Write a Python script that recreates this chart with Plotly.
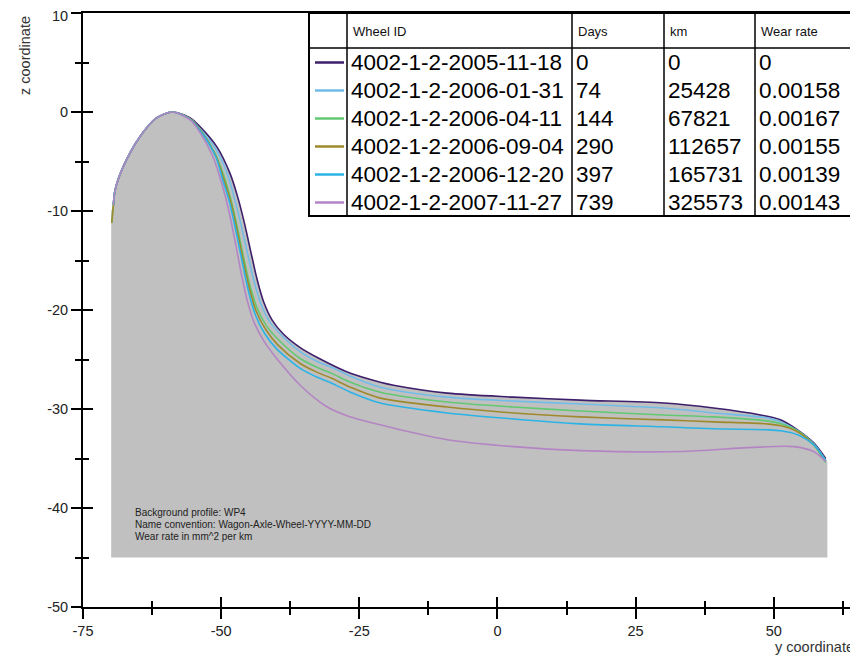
import plotly.graph_objects as go

# ---------------- data ----------------
wheel_ids = ["4002-1-2-2005-11-18", "4002-1-2-2006-01-31", "4002-1-2-2006-04-11",
             "4002-1-2-2006-09-04", "4002-1-2-2006-12-20", "4002-1-2-2007-11-27"]
days = ["0", "74", "144", "290", "397", "739"]
km = ["0", "25428", "67821", "112657", "165731", "325573"]
wear_rate = ["0", "0.00158", "0.00167", "0.00155", "0.00139", "0.00143"]
colors = ["#3D1F6B", "#72BDE8", "#62C872", "#9E8A2C", "#2BB3E6", "#B385C4"]

x_tickvals = [-75, -50, -25, 0, 25, 50]
x_ticktext = ["-75", "-50", "-25", "0", "25", "50"]
y_tickvals = [-50, -40, -30, -20, -10, 0, 10]
y_ticktext = ["-50", "-40", "-30", "-20", "-10", "0", "10"]

# background profile WP4 (gray area), y / z coordinates
wp4_y = [-69.9, -69.5, -69.2, -67.7, -64.7, -61.7, -58.8, -55.6, -53.8, -50.8, -48.4, -47.0, -45.8,
         -44.6, -43.5, -42.3, -40.8, -38.8, -35.7, -32.6, -26.6, -21.2, -18.8, -9.1, 2.9, 15.0, 30.1,
         39.1, 47.6, 51.3, 54.3, 57.2, 59.4, 59.7]
wp4_z = [-10.0, -9.4, -7.9, -5.5, -2.5, -0.6, 0.0, -0.6, -1.5, -3.5, -6.2, -8.6, -11.2,
         -14.2, -16.9, -19.2, -21.0, -22.4, -23.8, -24.8, -26.4, -27.3, -27.6, -28.4, -28.8, -29.1, -29.4,
         -29.9, -30.6, -31.1, -32.1, -33.4, -35.0, -35.4]
wp4_bottom = -45.0

s0_y = [-69.5, -69.2, -67.7, -64.7, -61.7, -58.8, -55.6, -53.8, -50.8, -48.4, -47.0, -45.8, -44.6,
        -43.5, -42.3, -40.8, -38.8, -35.7, -32.6, -26.6, -21.2, -18.8, -9.1, 2.9, 15.0, 30.1, 39.1,
        47.6, 51.3, 54.3, 57.2, 59.4]
s0_z = [-9.4, -7.9, -5.5, -2.5, -0.6, 0.0, -0.6, -1.5, -3.5, -6.2, -8.6, -11.2, -14.2,
        -16.9, -19.2, -21.0, -22.4, -23.8, -24.8, -26.4, -27.3, -27.6, -28.4, -28.8, -29.1, -29.4, -29.9,
        -30.6, -31.1, -32.1, -33.4, -35.0]

s1_y = [-69.5, -69.2, -67.7, -64.7, -61.7, -58.8, -55.6, -53.8, -50.8, -48.8, -47.5, -46.3, -45.1,
        -44.0, -42.8, -41.2, -39.0, -35.7, -32.6, -30.0, -26.6, -21.2, -9.1, 2.9, 15.0, 30.0, 39.1,
        48.7, 51.3, 54.3, 57.2, 59.4]
s1_z = [-9.4, -7.9, -5.5, -2.5, -0.6, 0.0, -0.7, -1.7, -3.9, -6.4, -8.9, -11.6, -14.6,
        -17.2, -19.4, -21.2, -22.6, -24.2, -25.2, -25.8, -26.7, -27.8, -28.8, -29.2, -29.5, -29.9, -30.4,
        -30.9, -31.3, -32.2, -33.5, -35.2]

s2_y = [-69.8, -69.5, -69.2, -67.7, -64.7, -61.7, -58.8, -55.6, -53.8, -51.0, -49.3, -48.2, -47.0,
        -45.9, -44.8, -43.5, -41.8, -39.8, -35.7, -32.6, -30.0, -26.6, -21.2, -9.1, 2.9, 15.0, 30.0,
        39.1, 48.7, 51.3, 54.3, 57.2, 59.4]
s2_z = [-11.2, -9.4, -7.9, -5.5, -2.5, -0.6, 0.0, -0.7, -1.8, -4.3, -6.8, -8.9, -11.8,
        -14.8, -17.5, -19.8, -21.6, -22.9, -24.9, -25.8, -26.4, -27.3, -28.3, -29.3, -29.8, -30.2, -30.6,
        -30.8, -31.2, -31.5, -32.2, -33.6, -35.4]

s3_y = [-69.8, -69.5, -69.2, -67.7, -64.7, -61.7, -58.8, -55.6, -53.8, -51.0, -49.4, -48.3, -47.1,
        -46.0, -44.9, -43.6, -41.9, -39.8, -35.7, -32.6, -30.0, -26.6, -21.2, -9.1, 2.9, 15.0, 30.0,
        39.1, 48.7, 51.3, 54.3, 57.2, 59.4]
s3_z = [-11.2, -9.4, -7.9, -5.5, -2.5, -0.6, 0.0, -0.7, -1.8, -4.4, -7.0, -9.0, -12.0,
        -15.0, -17.8, -20.2, -22.0, -23.5, -25.4, -26.3, -26.9, -27.8, -28.9, -29.8, -30.4, -30.8, -31.1,
        -31.3, -31.5, -31.7, -32.3, -33.6, -35.2]

s4_y = [-69.5, -69.2, -67.7, -64.7, -61.7, -58.8, -55.6, -53.8, -51.0, -49.6, -48.5, -47.3, -46.2,
        -45.1, -43.8, -42.1, -40.0, -35.7, -32.6, -30.0, -26.6, -21.2, -9.1, 2.9, 15.0, 30.0, 39.1,
        48.7, 51.3, 54.3, 57.2, 59.4]
s4_z = [-9.4, -7.9, -5.5, -2.5, -0.6, 0.0, -0.75, -1.9, -4.5, -7.1, -9.1, -12.1, -15.1,
        -18.0, -20.5, -22.4, -23.9, -25.9, -26.8, -27.4, -28.3, -29.4, -30.4, -31.0, -31.5, -31.8, -32.0,
        -32.1, -32.2, -32.6, -33.6, -35.2]

s5_y = [-69.5, -69.2, -67.7, -64.7, -61.7, -58.8, -55.6, -53.8, -51.5, -49.8, -48.6, -47.5, -46.4,
        -45.3, -44.0, -42.2, -39.8, -35.7, -30.8, -26.6, -21.2, -17.6, -9.1, 2.9, 15.0, 33.2,
        45.3, 53.6, 57.2, 59.4]
s5_z = [-9.4, -7.9, -5.5, -2.5, -0.6, 0.0, -0.8, -2.1, -4.5, -7.4, -10.0, -13.0, -16.2,
        -19.0, -21.3, -23.2, -25.0, -27.6, -29.8, -30.8, -31.6, -32.1, -33.1, -33.8, -34.2, -34.3,
        -33.9, -33.8, -34.3, -35.3]

series_y = [s0_y, s1_y, s2_y, s3_y, s4_y, s5_y]
series_z = [s0_z, s1_z, s2_z, s3_z, s4_z, s5_z]

notes = ["Background profile: WP4",
         "Name convention: Wagon-Axle-Wheel-YYYY-MM-DD",
         "Wear rate in mm^2 per km"]

# ---------------- layout geometry ----------------
# The page body has an 8 px default margin; the figure is sized so the plot
# lands where the reference has it in the 858x656 window.
OFF = 8
W, H = 850, 648
ML, MR, MT, MB = 75, 3, 5, 49
PW, PH = W - ML - MR, H - MT - MB
FONT = "Liberation Sans, Arial, sans-serif"
TICKFONT = dict(family=FONT, size=14.5, color="#222222")


def px(xp):  # window pixel -> paper x
    return (xp - OFF - ML) / PW


def py(yp):  # window pixel -> paper y
    return (H - MB - (yp - OFF)) / PH


fig = go.Figure()

# gray background profile: baseline + filled profile
fig.add_trace(go.Scatter(x=[wp4_y[0], wp4_y[-1]], y=[wp4_bottom, wp4_bottom], mode="lines",
                         line=dict(width=0, color="#C0C0C0"), hoverinfo="skip", showlegend=False))
fig.add_trace(go.Scatter(x=wp4_y, y=wp4_z, mode="lines", fill="tonexty", fillcolor="#C0C0C0",
                         line=dict(width=0, color="#C0C0C0", shape="spline", smoothing=0.8),
                         hoverinfo="skip", showlegend=False))

for i in range(len(wheel_ids)):
    fig.add_trace(go.Scatter(x=series_y[i], y=series_z[i], mode="lines", name=wheel_ids[i],
                             line=dict(color=colors[i], width=1.6, shape="spline", smoothing=0.8),
                             showlegend=False))

# invisible trace to carry overlay axes (inner tick halves)
fig.add_trace(go.Scatter(x=[-75], y=[-50], xaxis="x2", yaxis="y2", mode="markers",
                         marker=dict(opacity=0), hoverinfo="skip", showlegend=False))

XR = [-75, 64.7]
YR = [-50, 10]
axis_common = dict(showgrid=False, zeroline=False, linecolor="black", linewidth=2,
                   tickcolor="black", tickwidth=2, automargin=False, ticklabeloverflow="allow",
                   tickfont=TICKFONT)

# the top tick label sits at the very edge of the page: drawn as an annotation
# a touch lower so it is not clipped
y_ticktext_axis = [t if v != YR[1] else "" for v, t in zip(y_tickvals, y_ticktext)]

fig.update_layout(
    width=W, height=H, margin=dict(l=ML, r=MR, t=MT, b=MB, autoexpand=False),
    paper_bgcolor="white", plot_bgcolor="white", showlegend=False,
    xaxis=dict(range=XR, tickmode="array", tickvals=x_tickvals, ticktext=x_ticktext,
               ticks="outside", ticklen=10, showline=True, mirror=True,
               minor=dict(dtick=12.5, tick0=-75, ticks="outside", ticklen=6, tickwidth=2, tickcolor="black"),
               **axis_common),
    yaxis=dict(range=YR, tickmode="array", tickvals=y_tickvals, ticktext=y_ticktext_axis,
               ticks="outside", ticklen=10, showline=True, mirror=True,
               minor=dict(dtick=5, tick0=-50, ticks="outside", ticklen=6, tickwidth=2, tickcolor="black"),
               **axis_common),
    xaxis2=dict(range=XR, overlaying="x", anchor="y2", side="bottom", tick0=-75, dtick=25,
                ticks="inside", ticklen=10, tickwidth=2, tickcolor="black", showticklabels=False,
                showline=False, showgrid=False, zeroline=False, automargin=False,
                minor=dict(dtick=12.5, tick0=-75, ticks="inside", ticklen=6, tickwidth=2, tickcolor="black")),
    yaxis2=dict(range=YR, overlaying="y", anchor="x2", side="left", tick0=-50, dtick=10,
                ticks="inside", ticklen=10, tickwidth=2, tickcolor="black", showticklabels=False,
                showline=False, showgrid=False, zeroline=False, automargin=False,
                minor=dict(dtick=5, tick0=-50, ticks="inside", ticklen=6, tickwidth=2, tickcolor="black")),
)

shapes = []
annotations = []

annotations.append(dict(text=y_ticktext[-1], x=px(70), y=py(15.5), xref="paper", yref="paper",
                        xanchor="right", yanchor="middle", showarrow=False, font=TICKFONT))

# axis titles
annotations.append(dict(text="z coordinate", x=px(25), y=py(56), xref="paper", yref="paper",
                        xanchor="center", yanchor="middle",
                        showarrow=False, textangle=-90, font=dict(family=FONT, size=14.5, color="#333333")))
annotations.append(dict(text="y coordinate", x=px(856), y=py(647), xref="paper", yref="paper",
                        xanchor="right", yanchor="middle", showarrow=False,
                        font=dict(family=FONT, size=14.5, color="#333333")))

# notes in the gray area
for k, t in enumerate(notes):
    annotations.append(dict(text=t, x=px(133), y=py(513 + 11.5 * k), xref="paper", yref="paper",
                            xanchor="left", yanchor="middle", showarrow=False,
                            font=dict(family=FONT, size=10, color="#222222")))

# legend table
TL, TR, TT, TB = 309, 855, 13, 216
col_x = [309, 347, 572, 664, 755, 855]
head_b = 48
row_h = (TB - head_b) / 6.0
shapes.append(dict(type="rect", xref="paper", yref="paper", x0=px(TL), x1=px(TR), y0=py(TB), y1=py(TT),
                   fillcolor="white", line=dict(color="black", width=2), layer="above"))
shapes.append(dict(type="line", xref="paper", yref="paper", x0=px(TL), x1=px(TR), y0=py(head_b), y1=py(head_b),
                   line=dict(color="black", width=1.5), layer="above"))
for cx in col_x[1:-1]:
    shapes.append(dict(type="line", xref="paper", yref="paper", x0=px(cx), x1=px(cx), y0=py(TB), y1=py(TT),
                       line=dict(color="black", width=1.5), layer="above"))

headers = ["Wheel ID", "Days", "km", "Wear rate"]
for j, h in enumerate(headers):
    annotations.append(dict(text=h, x=px(col_x[j + 1] + 4), y=py((TT + head_b) / 2 + 1), xref="paper",
                            yref="paper", xanchor="left", yanchor="middle", showarrow=False,
                            font=dict(family=FONT, size=13, color="#111111")))

for i in range(len(wheel_ids)):
    cy = head_b + row_h * (i + 0.5) + 0.5
    shapes.append(dict(type="line", xref="paper", yref="paper", x0=px(315), x1=px(344), y0=py(cy), y1=py(cy),
                       line=dict(color=colors[i], width=2.5), layer="above"))
    for j, val in enumerate([wheel_ids[i], days[i], km[i], wear_rate[i]]):
        annotations.append(dict(text=val, x=px(col_x[j + 1] + 2), y=py(cy), xref="paper", yref="paper",
                                xanchor="left", yanchor="middle", showarrow=False,
                                font=dict(family=FONT, size=22.5, color="#000000")))

fig.update_layout(shapes=shapes, annotations=annotations)

fig.write_html("out.html")
